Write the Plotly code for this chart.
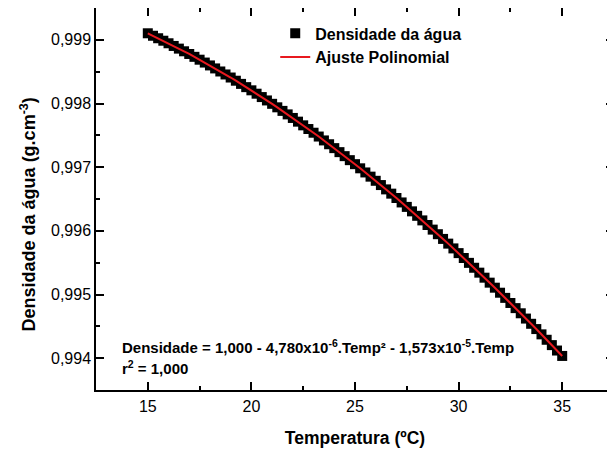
import plotly.graph_objects as go

temp = [15.00, 15.25, 15.50, 15.75, 16.00, 16.25, 16.50, 16.75, 17.00, 17.25, 17.50, 17.75,
        18.00, 18.25, 18.50, 18.75, 19.00, 19.25, 19.50, 19.75, 20.00, 20.25, 20.50, 20.75,
        21.00, 21.25, 21.50, 21.75, 22.00, 22.25, 22.50, 22.75, 23.00, 23.25, 23.50, 23.75,
        24.00, 24.25, 24.50, 24.75, 25.00, 25.25, 25.50, 25.75, 26.00, 26.25, 26.50, 26.75,
        27.00, 27.25, 27.50, 27.75, 28.00, 28.25, 28.50, 28.75, 29.00, 29.25, 29.50, 29.75,
        30.00, 30.25, 30.50, 30.75, 31.00, 31.25, 31.50, 31.75, 32.00, 32.25, 32.50, 32.75,
        33.00, 33.25, 33.50, 33.75, 34.00, 34.25, 34.50, 34.75, 35.00]

densidade = [0.999103, 0.999064, 0.999025, 0.998986, 0.998946, 0.998904, 0.998862, 0.998820,
             0.998778, 0.998733, 0.998688, 0.998643, 0.998598, 0.998551, 0.998503, 0.998456,
             0.998408, 0.998358, 0.998308, 0.998257, 0.998207, 0.998154, 0.998101, 0.998048,
             0.997995, 0.997940, 0.997884, 0.997829, 0.997773, 0.997715, 0.997657, 0.997599,
             0.997541, 0.997481, 0.997420, 0.997360, 0.997299, 0.997236, 0.997173, 0.997110,
             0.997047, 0.996982, 0.996917, 0.996851, 0.996786, 0.996719, 0.996651, 0.996584,
             0.996516, 0.996446, 0.996376, 0.996306, 0.996236, 0.996164, 0.996092, 0.996019,
             0.995947, 0.995873, 0.995799, 0.995724, 0.995650, 0.995573, 0.995497, 0.995420,
             0.995343, 0.995264, 0.995186, 0.995107, 0.995028, 0.994947, 0.994867, 0.994786,
             0.994705, 0.994622, 0.994540, 0.994457, 0.994374, 0.994289, 0.994205, 0.994120,
             0.994035]

x_ticks = [15, 20, 25, 30, 35]
y_ticks = [0.994, 0.995, 0.996, 0.997, 0.998, 0.999]

FONT = "Liberation Sans, Arial, sans-serif"

fig = go.Figure()
fig.add_trace(go.Scatter(
    x=temp, y=densidade, mode="markers", name="<b>Densidade da água</b>",
    marker=dict(symbol="square", size=10, color="black", line=dict(width=0)),
))
fig.add_trace(go.Scatter(
    x=temp, y=densidade, mode="lines", name="<b>Ajuste Polinomial</b>",
    line=dict(color="#e8191f", width=2),
))

axis_common = dict(
    showline=True, linecolor="black", linewidth=1.5, mirror="ticks",
    ticks="inside", ticklen=8, tickwidth=1.5, tickcolor="black",
    showgrid=False, zeroline=False, automargin=False,
    tickfont=dict(family=FONT, size=16, color="black"),
)

fig.update_xaxes(
    range=[12.5, 37.5], tickvals=x_ticks, ticktext=[str(v) for v in x_ticks],
    minor=dict(ticks="inside", ticklen=4, tickwidth=1.5, tickcolor="black", dtick=2.5, tick0=12.5),
    ticklabelstandoff=1,
    title=dict(text="<b>Temperatura (ºC)</b>", font=dict(family=FONT, size=17.5, color="black"), standoff=18),
    **axis_common,
)
fig.update_yaxes(
    range=[0.9935, 0.9995], tickvals=y_ticks, ticktext=[f"{v:.3f}".replace(".", ",") for v in y_ticks],
    minor=dict(ticks="inside", ticklen=4, tickwidth=1.5, tickcolor="black", dtick=0.0005, tick0=0.9935),
    **axis_common,
)

# y-axis title (placed as rotated text, as in the original)
fig.add_annotation(
    xref="paper", yref="paper", x=-0.131, y=0.46, xanchor="center", yanchor="middle",
    text="<b>Densidade da água (g.cm<sup>-3</sup>)</b>", textangle=-90,
    showarrow=False, font=dict(family=FONT, size=18, color="black"),
)

fig.add_annotation(
    xref="paper", yref="paper", x=0.046, y=0.115, xanchor="left", yanchor="middle",
    text="<b>Densidade = 1,000 - 4,780x10<sup>-6</sup>.Temp² - 1,573x10<sup>-5</sup>.Temp</b>",
    showarrow=False, font=dict(family=FONT, size=15, color="black"),
)
fig.add_annotation(
    xref="paper", yref="paper", x=0.046, y=0.058, xanchor="left", yanchor="middle",
    text="<b>r<sup>2</sup> = 1,000</b>",
    showarrow=False, font=dict(family=FONT, size=15, color="black"),
)

fig.update_layout(
    width=615, height=450,
    margin=dict(l=88, r=9, t=0, b=68),
    paper_bgcolor="white", plot_bgcolor="white",
    font=dict(family=FONT, color="black"),
    legend=dict(x=0.346, y=0.978, xanchor="left", yanchor="top",
                bgcolor="rgba(0,0,0,0)", font=dict(family=FONT, size=16, color="black"),
                tracegroupgap=0, itemwidth=30),
    showlegend=True,
)

fig.write_html("out.html")
